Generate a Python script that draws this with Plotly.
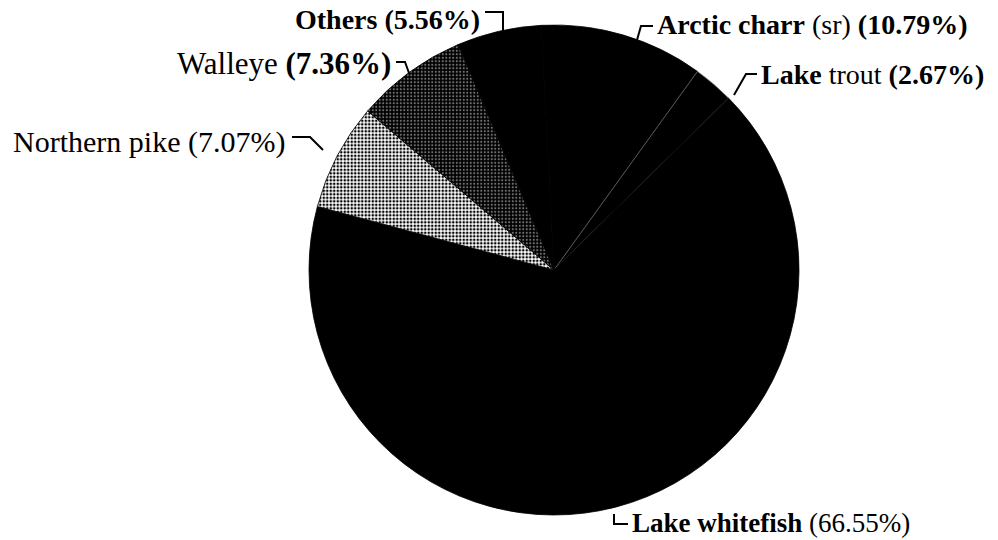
import plotly.graph_objects as go

# Data
species = ["Arctic charr", "Lake trout", "Lake whitefish", "Northern pike", "Walleye", "Others"]
shares = [10.79, 2.67, 66.55, 7.07, 7.36, 5.56]

# Styles
slice_colors = ["#000000", "#000000", "#000000", "#ffffff", "#000000", "#000000"]
pattern_shapes = ["", "", "", ".", ".", ""]
pattern_bg = ["#000000", "#000000", "#000000", "#ffffff", "#000000", "#000000"]
pattern_fg = ["#000000", "#000000", "#000000", "#000000", "#707070", "#000000"]
pattern_solidity = [0.3, 0.3, 0.3, 0.45, 0.3, 0.3]
line_colors = ["#000000", "#6a6a6a", "#000000", "#000000", "#000000", "#000000"]
label_templates = {
    "Arctic charr": "<b>{n}</b> (sr) <b>({p})</b>",
    "Lake trout": "<b>Lake</b> trout <b>({p})</b>",
    "Lake whitefish": "<b>{n}</b> ({p})",
    "Northern pike": "{n} ({p})",
    "Walleye": "{n} <b>({p})</b>",
    "Others": "<b>{n} ({p})</b>",
}
label_sizes = {
    "Arctic charr": 28, "Lake trout": 28, "Lake whitefish": 27,
    "Northern pike": 30, "Walleye": 31, "Others": 28,
}
# label anchor positions in pixels (x, y, xanchor)
label_pos = {
    "Arctic charr": (655, 25, "left"),
    "Lake trout": (759, 75, "left"),
    "Lake whitefish": (630, 523, "left"),
    "Northern pike": (287, 142, "right"),
    "Walleye": (393, 63, "right"),
    "Others": (482, 19, "right"),
}
# leader hooks in pixels
hooks = {
    "Arctic charr": [(653, 26), (641, 26), (637, 40)],
    "Lake trout": [(757, 74), (746, 74), (734, 95)],
    "Lake whitefish": [(628, 524), (614, 524), (614, 514)],
    "Northern pike": [(292, 137), (310, 137), (323, 150)],
    "Walleye": [(396, 62), (405, 62), (409, 73)],
    "Others": [(485, 12), (503, 12), (503, 33)],
}

W, H = 998, 540


def px(x, y):
    return x / W, 1 - y / H


fig = go.Figure()
fig.add_trace(go.Pie(
    labels=species,
    values=shares,
    sort=False,
    direction="clockwise",
    rotation=-3,
    textinfo="none",
    hoverinfo="skip",
    showlegend=False,
    marker=dict(
        colors=slice_colors,
        line=dict(width=0.8, color=line_colors),
        pattern=dict(shape=pattern_shapes, fgcolor=pattern_fg, bgcolor=pattern_bg,
                     fillmode="replace", size=3.5, solidity=pattern_solidity),
    ),
    domain=dict(x=[309 / W, 799 / W], y=[1 - 515 / H, 1 - 25 / H]),
))

font_fam = "Liberation Serif, Times New Roman, serif"
for name, val in zip(species, shares):
    txt = label_templates[name].format(n=name, p=f"{val:.2f}%")
    x, y, xa = label_pos[name]
    ax_, ay_ = px(x, y)
    fig.add_annotation(
        x=ax_, y=ay_, xref="paper", yref="paper", text=txt, showarrow=False,
        xanchor=xa, yanchor="middle",
        font=dict(family=font_fam, size=label_sizes[name], color="#000"),
    )
    pts = hooks[name]
    path = "M " + " L ".join(f"{px(a, b)[0]},{px(a, b)[1]}" for a, b in pts)
    fig.add_shape(type="path", path=path, xref="paper", yref="paper",
                  line=dict(color="#000", width=2))

fig.update_layout(
    width=W, height=H,
    margin=dict(l=0, r=0, t=0, b=0),
    paper_bgcolor="white",
    plot_bgcolor="white",
)
fig.write_html("out.html", config={"displayModeBar": False},
               post_script="document.body.style.margin='0';")
